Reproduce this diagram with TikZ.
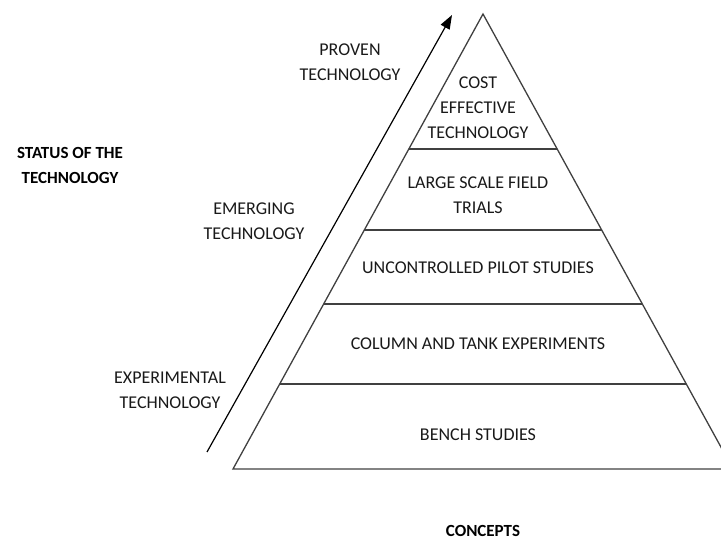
\documentclass[tikz,border=0pt]{standalone}
\usepackage{fontspec}
\setmainfont{Carlito}
\usetikzlibrary{arrows.meta, calc}

\tikzset{
  layer/.style={font=\fontsize{18}{25}\selectfont, text=black!90, align=center, inner sep=0pt},
  heading/.style={font=\fontsize{17}{25}\selectfont\bfseries, text=black, align=center, inner sep=0pt},
  pyr/.style={draw=black!75, line width=1.3pt},
}

\begin{document}
\begin{tikzpicture}[x=1pt, y=-1pt]
        \useasboundingbox (0,0) rectangle (721,540);
        \clip (0,0) rectangle (721,540);

        % Pyramid outline
        \coordinate (apex) at (483,14);
        \coordinate (bl) at (233,469);
        \coordinate (br) at (733,469);
        \draw[pyr, line join=miter] (bl) -- (apex) -- (br) -- cycle;

        % Layer boundaries
        \foreach \t in {0.2967, 0.4747, 0.6374, 0.8132} {
          \draw[pyr] ($(apex)!\t!(bl)$) -- ($(apex)!\t!(br)$);
        }

        % Layers (top to bottom)
        \node[layer] (cost) at (478,108) {COST\\EFFECTIVE\\TECHNOLOGY};
        \node[layer] (field) at (478,195) {LARGE SCALE FIELD\\TRIALS};
        \node[layer] (pilot) at (478,268) {UNCONTROLLED PILOT STUDIES};
        \node[layer] (column) at (478,344) {COLUMN AND TANK EXPERIMENTS};
        \node[layer] (bench) at (478,435) {BENCH STUDIES};

        % Status labels along the arrow
        \node[layer] (proven) at (350,62) {PROVEN\\TECHNOLOGY};
        \node[layer] (emerging) at (254,221) {EMERGING\\TECHNOLOGY};
        \node[layer] (experimental) at (170,390) {EXPERIMENTAL\\TECHNOLOGY};

        % Headings
        \node[heading] (status) at (70,165) {STATUS OF THE\\TECHNOLOGY};
        \node[heading] (concepts) at (483,531) {CONCEPTS};

        % Arrow (experimental -> proven)
        \coordinate (low) at (207,452);
        \coordinate (high) at (452,15);
        \draw[line width=1.2pt, -{Triangle[length=14pt, width=10pt]}] (low) -- (high);
\end{tikzpicture}
\end{document}
